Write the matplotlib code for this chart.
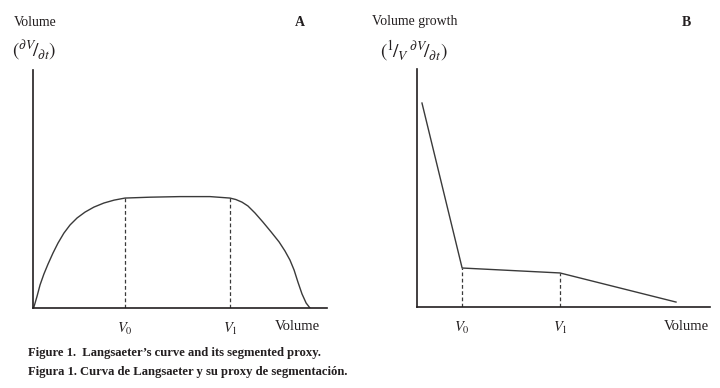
import matplotlib
matplotlib.use("Agg")
import matplotlib.pyplot as plt

# Panel A: Langsaeter's curve (volume increment vs. volume), arbitrary units
curve_x = [0.03, 0.14, 0.24, 0.37, 0.51, 0.68, 0.85, 1.05, 1.26, 1.50, 1.77, 2.07,
           2.41, 2.76, 3.13, 3.98, 5.00, 6.02, 6.70, 6.90, 7.11, 7.31, 7.55, 7.82,
           8.10, 8.37, 8.57, 8.74, 8.88, 9.01, 9.15, 9.29, 9.42]
curve_y = [0.03, 0.41, 0.79, 1.16, 1.50, 1.88, 2.22, 2.56, 2.84, 3.08, 3.28, 3.45,
           3.59, 3.69, 3.76, 3.79, 3.81, 3.81, 3.76, 3.71, 3.62, 3.49, 3.25, 2.94,
           2.60, 2.26, 1.95, 1.64, 1.30, 0.89, 0.48, 0.17, 0.0]
a_v0, a_v1 = 3.13, 6.70
a_v0_y, a_v1_y = 3.76, 3.76

# Panel B: segmented proxy (relative volume growth)
seg_x = [0.17, 1.54, 4.88, 8.84]
seg_y = [7.01, 1.34, 1.17, 0.17]
b_v0, b_v1 = 1.54, 4.88

tick_labels = ["$V_0$", "$V_1$", "Volume"]

plt.rcParams.update({
    "font.family": ["Liberation Serif", "DejaVu Serif"],
    "mathtext.fontset": "stix",
    "font.size": 10,
    "text.color": "#231f20",
})

W, H = 720, 388
fig = plt.figure(figsize=(W / 100, H / 100), dpi=100)
ink = "#231f20"
line = "#3a3a3a"


def frame(ax, xlabel_x, vs):
    for side in ("top", "right"):
        ax.spines[side].set_visible(False)
    for side in ("left", "bottom"):
        ax.spines[side].set_linewidth(1.2)
        ax.spines[side].set_color(ink)
    ax.set_yticks([])
    ax.set_xticks(list(vs) + [xlabel_x], labels=tick_labels, fontsize=10.5)
    ax.tick_params(axis="x", length=0, pad=9, colors=ink)
    ax.set_xlim(0, 10)


axA = fig.add_axes([33 / W, 1 - 308 / H, 294 / W, 238 / H])
axA.plot(curve_x, curve_y, color=line, lw=1.0)
axA.plot([a_v0, a_v0], [0, a_v0_y], color=line, lw=0.9, ls=(0, (3, 2)))
axA.plot([a_v1, a_v1], [0, a_v1_y], color=line, lw=0.9, ls=(0, (3, 2)))
axA.set_ylim(0, 8.14)
frame(axA, 9.0, (a_v0, a_v1))

axB = fig.add_axes([417 / W, 1 - 307 / H, 293 / W, 238 / H])
axB.plot(seg_x, seg_y, color=line, lw=1.0)
axB.plot([b_v0, b_v0], [0, seg_y[1]], color=line, lw=0.9, ls=(0, (3, 2)))
axB.plot([b_v1, b_v1], [0, seg_y[2]], color=line, lw=0.9, ls=(0, (3, 2)))
axB.set_ylim(0, 8.18)
frame(axB, 9.18, (b_v0, b_v1))

fig.text(14 / W, 1 - 22 / H, "Volume", ha="left", va="center", fontsize=10)
fig.text(300 / W, 1 - 22 / H, "A", ha="center", va="center", fontsize=10, weight="bold")
fig.text(12 / W, 1 - 51 / H, r"$\left(^{\partial V}\!/_{\partial t}\right)$",
         ha="left", va="center", fontsize=14)

fig.text(372 / W, 1 - 22 / H, "Volume growth", ha="left", va="center", fontsize=10)
fig.text(686 / W, 1 - 22 / H, "B", ha="center", va="center", fontsize=10, weight="bold")
fig.text(380 / W, 1 - 51 / H,
         r"$\left(^{1}\!/_{V}\,^{\partial V}\!/_{\partial t}\right)$",
         ha="left", va="center", fontsize=14)

fig.text(28 / W, 1 - 353 / H, "Figure 1.  Langsaeter\u2019s curve and its segmented proxy.",
         ha="left", va="center", fontsize=9.1, weight="bold")
fig.text(28 / W, 1 - 372 / H, "Figura 1. Curva de Langsaeter y su proxy de segmentación.",
         ha="left", va="center", fontsize=9.1, weight="bold")

fig.savefig("out.png", dpi=100)
